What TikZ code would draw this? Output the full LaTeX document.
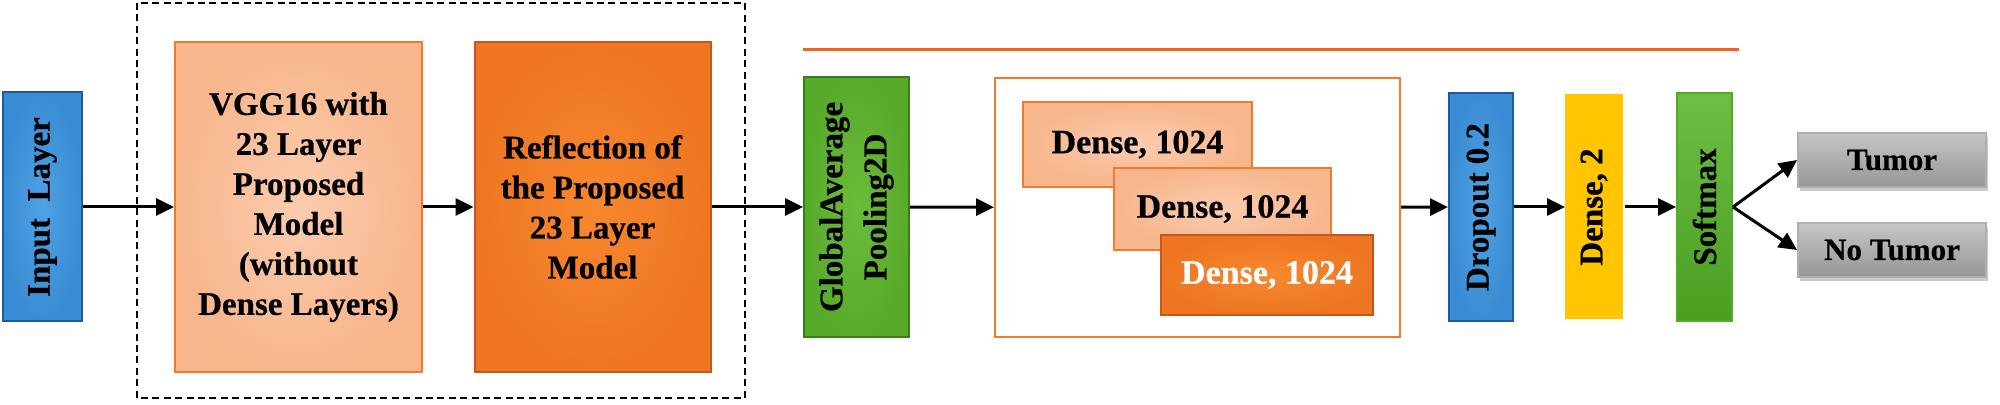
\documentclass[tikz,border=0pt]{standalone}
\usepackage{fontspec}
\setmainfont{Liberation Serif}[BoldFeatures={FakeBold=0.6}]
\usetikzlibrary{arrows.meta,shadows}
\definecolor{inpIn}{RGB}{80,162,228}
\definecolor{inpOut}{RGB}{58,140,212}
\definecolor{inpBd}{RGB}{30,90,160}
\definecolor{vggIn}{RGB}{251,204,174}
\definecolor{vggOut}{RGB}{247,182,140}
\definecolor{vggBd}{RGB}{242,122,42}
\definecolor{refIn}{RGB}{248,136,46}
\definecolor{refOut}{RGB}{238,118,34}
\definecolor{refBd}{RGB}{198,86,25}
\definecolor{gapIn}{RGB}{108,188,60}
\definecolor{gapOut}{RGB}{88,170,42}
\definecolor{gapBd}{RGB}{55,125,30}
\definecolor{yel}{RGB}{255,198,0}
\definecolor{smTop}{RGB}{110,190,70}
\definecolor{smBot}{RGB}{74,158,32}
\definecolor{smBd}{RGB}{82,170,42}
\definecolor{gryTop}{RGB}{198,198,198}
\definecolor{gryBot}{RGB}{150,150,150}
\definecolor{gryBd}{RGB}{175,175,175}
\definecolor{orLine}{RGB}{242,100,30}
\begin{document}
\begin{tikzpicture}[x=0.5pt,y=-0.5pt,
  lay/.style={draw, line width=1pt, inner sep=0pt, align=center,
    font=\bfseries\fontsize{16.5}{20}\selectfont},
  bluebox/.style={lay, draw=inpBd, shading=radial, inner color=inpIn, outer color=inpOut, rotate=90},
  vggbox/.style={lay, draw=vggBd, shading=radial, inner color=vggIn, outer color=vggOut},
  refbox/.style={lay, draw=refBd, shading=radial, inner color=refIn, outer color=refOut},
  densebox/.style={lay, draw=vggBd, shading=radial, inner color=vggIn, outer color=vggOut,
    font=\bfseries\fontsize{17}{20}\selectfont},
  graybox/.style={lay, draw=gryBd, top color=gryTop, bottom color=gryBot,
    font=\bfseries\fontsize{15.5}{18}\selectfont,
    drop shadow={shadow xshift=1pt, shadow yshift=-2pt, opacity=0.35, fill=black!60},
    minimum width=94pt, minimum height=27pt},
  arr/.style={-{Triangle[length=9pt,width=8.5pt]}, line width=1.5pt}]
\useasboundingbox (0,0) rectangle (2000,405);
% dashed group
\draw[line width=1pt, dash pattern=on 3.5pt off 2.2pt] (137,3) rectangle (745,398);
% orange line
\draw[orLine, line width=1.5pt] (803,50) -- (1739,50);
% nodes
\node[bluebox, minimum width=114.5pt, minimum height=39.5pt] (inp) at (42.5,207) {Input\ \ Layer};
\node[vggbox, minimum width=123.5pt, minimum height=165pt] (vgg) at (298.5,207)
  {VGG16 with\\23 Layer\\Proposed\\Model\\(without\\Dense Layers)};
\node[refbox, minimum width=118pt, minimum height=165pt] (ref) at (592.5,207)
  {Reflection of\\the Proposed\\23 Layer\\Model};
\node[lay, draw=gapBd, shading=radial, inner color=gapIn, outer color=gapOut, rotate=90,
  minimum width=130pt, minimum height=52.5pt, font=\bfseries\fontsize{16.5}{22}\selectfont] (gap) at (856.5,207)
  {GlobalAverage\\Pooling2D};
\node[draw=vggBd, line width=1pt, fill=white, minimum width=202.5pt, minimum height=129.5pt, inner sep=0pt] (cont) at (1197.5,207.5) {};
\node[densebox, minimum width=114.5pt, minimum height=42.5pt] (d1) at (1137.5,144.5) {Dense, 1024};
\node[densebox, minimum width=108.5pt, minimum height=41pt] (d2) at (1222.5,209) {Dense, 1024};
\node[densebox, draw=refBd, inner color=refIn, outer color=refOut, text=white,
  minimum width=106pt, minimum height=40pt] (d3) at (1267,275) {Dense, 1024};
\node[bluebox, minimum width=114pt, minimum height=32pt] (drop) at (1481,207) {Dropout 0.2};
\node[lay, draw=yel, fill=yel, rotate=90, minimum width=111.5pt, minimum height=28pt] (dn2) at (1594,207) {Dense, 2};
\node[lay, draw=smBd, top color=smTop, bottom color=smBot, rotate=90,
  minimum width=114pt, minimum height=27.5pt] (sm) at (1704.5,207) {Softmax};
\node[graybox] (tum) at (1892,160) {Tumor};
\node[graybox] (ntum) at (1892,250) {No Tumor};
% connectors
\draw[arr] (inp) -- (vgg);
\draw[arr] (vgg) -- (ref);
\draw[arr] (ref) -- (gap);
\draw[arr] (gap) -- (cont);
\draw[arr] (cont) -- (drop);
\draw[arr] (drop) -- (dn2);
\draw[arr, shorten <=1pt] (dn2) -- (sm);
\draw[arr] (sm.south) -- (tum.west);
\draw[arr] (sm.south) -- (ntum.west);
\end{tikzpicture}
\end{document}
